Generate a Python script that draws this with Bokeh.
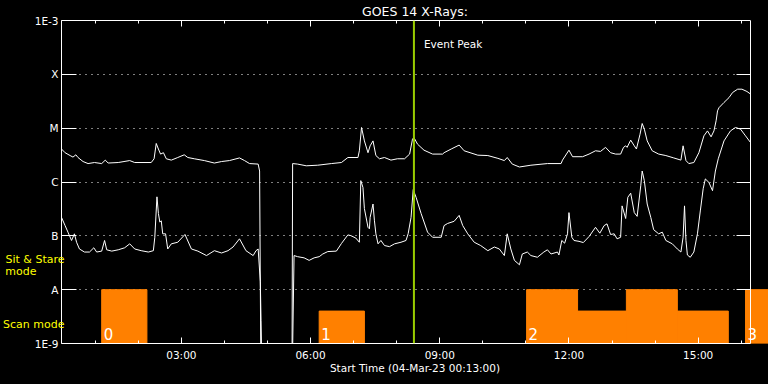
import pandas as pd
from bokeh.plotting import figure
from bokeh.models import (ColumnDataSource, FixedTicker, LogAxis, DatetimeAxis,
                          DatetimeTickFormatter, Span, Label, LabelSet,
                          GlobalInlineStyleSheet)
from bokeh.core.properties import value
from bokeh.embed import file_html
from bokeh.resources import INLINE

# ---------------- data ----------------
DAY = "2023-03-04"
START = "00:13"
END = "16:13"
EVENT_PEAK = "08:24"
TITLE = "GOES 14 X-Rays:"
X_LABEL = "Start Time (04-Mar-23 00:13:00)"

# GOES long channel (1-8 A), W/m^2
long_time = ["00:13", "00:18", "00:25", "00:29", "00:33", "00:36", "00:43", "00:50", "00:59", "01:09",
             "01:14", "01:18", "01:32", "01:48", "01:55", "02:18", "02:22", "02:25", "02:28", "02:31",
             "02:35", "02:39", "02:46", "02:55", "03:04", "03:09", "03:18", "03:32", "03:46", "03:56",
             "04:07", "04:21", "04:28", "04:35", "04:47", "04:49", "04:51", "05:34", "05:35", "05:42",
             "05:54", "06:10", "06:29", "06:43", "06:52", "07:06", "07:08", "07:11", "07:15", "07:20",
             "07:23", "07:27", "07:31", "07:36", "07:43", "07:52", "08:01", "08:11", "08:18", "08:22",
             "08:24", "08:29", "08:38", "08:50", "09:04", "09:06", "09:16", "09:27", "09:34", "09:53",
             "10:07", "10:21", "10:30", "10:34", "10:41", "10:51", "11:07", "11:30", "11:49", "11:51",
             "12:00", "12:05", "12:19", "12:28", "12:37", "12:44", "12:51", "12:58", "13:05", "13:12",
             "13:16", "13:19", "13:21", "13:26", "13:31", "13:34", "13:39", "13:42", "13:45", "13:49",
             "13:56", "14:05", "14:15", "14:26", "14:36", "14:39", "14:43", "14:47", "14:54", "15:01",
             "15:08", "15:13", "15:18", "15:22", "15:25", "15:27", "15:29", "15:36", "15:43", "15:48",
             "15:55", "16:01", "16:08", "16:13"]
long_flux = [4.1e-6, 3.5e-6, 3.1e-6, 2.9e-6, 3.2e-6, 2.85e-6, 2.4e-6, 2.2e-6, 2.3e-6, 2.2e-6,
             2.55e-6, 2.25e-6, 2.3e-6, 2.5e-6, 2.3e-6, 2.3e-6, 2.7e-6, 5.2e-6, 4.1e-6, 3.3e-6,
             3.5e-6, 2.7e-6, 2.55e-6, 2.85e-6, 3.2e-6, 2.85e-6, 2.7e-6, 2.5e-6, 2.25e-6, 2.4e-6,
             2.5e-6, 2.8e-6, 2.5e-6, 2.2e-6, 2.15e-6, 1.6e-6, 1e-10, 1e-10, 2.2e-6, 2.15e-6,
             2.0e-6, 2.05e-6, 2.2e-6, 2.3e-6, 2.85e-6, 2.85e-6, 3.8e-6, 1.03e-5, 5.8e-6, 3.5e-6,
             4.7e-6, 5.8e-6, 3.1e-6, 2.7e-6, 2.85e-6, 2.55e-6, 2.7e-6, 2.7e-6, 3.3e-6, 6.25e-6,
             6.7e-6, 5.05e-6, 3.9e-6, 3.3e-6, 3.3e-6, 3.5e-6, 4.1e-6, 4.85e-6, 3.8e-6, 3.15e-6,
             3.1e-6, 2.75e-6, 2.5e-6, 2.85e-6, 2.15e-6, 1.9e-6, 2.05e-6, 2.2e-6, 2.2e-6, 2.55e-6,
             3.9e-6, 2.95e-6, 2.95e-6, 3.3e-6, 3.8e-6, 3.7e-6, 4.4e-6, 3.5e-6, 3.3e-6, 3.3e-6,
             4.4e-6, 4.7e-6, 4.4e-6, 6.0e-6, 4.7e-6, 4.1e-6, 7.7e-6, 1.22e-5, 9.6e-6, 5.8e-6,
             3.8e-6, 3.3e-6, 3.1e-6, 2.8e-6, 2.55e-6, 4.7e-6, 2.5e-6, 2.2e-6, 2.3e-6, 3.5e-6,
             7.2e-6, 8.9e-6, 6.9e-6, 8.9e-6, 1.37e-5, 2.1e-5, 2.4e-5, 3.0e-5, 3.7e-5, 4.6e-5,
             5.3e-5, 5.3e-5, 4.8e-5, 4.3e-5]

# GOES short channel (0.5-4 A), W/m^2
short_time = ["00:13", "00:18", "00:22", "00:27", "00:31", "00:34", "00:38", "00:45", "00:52", "00:58",
              "01:02", "01:09", "01:13", "01:16", "01:23", "01:32", "01:41", "01:48", "01:55", "02:04",
              "02:14", "02:21", "02:23", "02:26", "02:28", "02:30", "02:32", "02:34", "02:38", "02:41",
              "02:46", "02:55", "03:05", "03:14", "03:23", "03:35", "03:46", "03:56", "04:05", "04:12",
              "04:21", "04:30", "04:40", "04:44", "04:47", "04:50", "04:51", "04:53", "05:34", "05:37",
              "05:42", "05:51", "05:58", "06:05", "06:12", "06:17", "06:24", "06:36", "06:43", "06:52",
              "06:56", "07:03", "07:08", "07:10", "07:13", "07:15", "07:20", "07:22", "07:23", "07:27",
              "07:29", "07:31", "07:34", "07:38", "07:43", "07:50", "07:57", "08:06", "08:13", "08:16",
              "08:20", "08:23", "08:27", "08:34", "08:43", "08:50", "09:02", "09:06", "09:11", "09:20",
              "09:27", "09:32", "09:39", "09:48", "09:57", "10:07", "10:16", "10:23", "10:30", "10:34",
              "10:39", "10:44", "10:51", "10:55", "11:02", "11:07", "11:16", "11:25", "11:30", "11:35",
              "11:44", "11:46", "11:50", "11:54", "11:58", "12:00", "12:04", "12:07", "12:14", "12:20",
              "12:28", "12:37", "12:43", "12:49", "12:53", "12:58", "13:03", "13:07", "13:12", "13:14",
              "13:19", "13:22", "13:26", "13:31", "13:35", "13:40", "13:42", "13:45", "13:49", "13:54",
              "13:58", "14:05", "14:10", "14:15", "14:24", "14:31", "14:36", "14:39", "14:41", "14:43",
              "14:45", "14:49", "14:54", "14:59", "15:03", "15:07", "15:10", "15:15", "15:20", "15:24",
              "15:28", "15:36", "15:45", "15:52", "15:59", "16:06", "16:13"]
short_flux = [2.2e-7, 1.55e-7, 1.17e-7, 8.2e-8, 1.09e-7, 7.6e-8, 5.7e-8, 5.0e-8, 5.0e-8, 6.0e-8,
              5.0e-8, 5.2e-8, 8.2e-8, 5.5e-8, 5.2e-8, 5.5e-8, 6.0e-8, 7.1e-8, 5.7e-8, 5.3e-8,
              5.0e-8, 5.3e-8, 9.4e-8, 5.3e-7, 2.6e-7, 1.8e-7, 1.9e-7, 1.09e-7, 1.09e-7, 5.7e-8,
              7.1e-8, 7.6e-8, 1.06e-7, 5.7e-8, 5.2e-8, 4.3e-8, 5.3e-8, 4.8e-8, 5.3e-8, 6.2e-8,
              8.8e-8, 5.3e-8, 4.3e-8, 5.3e-8, 5.7e-8, 1.4e-8, 2.7e-9, 1e-10, 1e-10, 4.3e-8,
              4.1e-8, 3.9e-8, 3.5e-8, 3.9e-8, 4.1e-8, 4.6e-8, 5.1e-8, 5.2e-8, 7.2e-8, 1.04e-7,
              1.01e-7, 9.1e-8, 7.6e-8, 1.06e-6, 7.9e-7, 3.2e-7, 1.44e-7, 1.35e-7, 2.2e-7, 3.9e-7,
              1.9e-7, 1.09e-7, 7.1e-8, 8.2e-8, 6.6e-8, 6.3e-8, 7.1e-8, 7.6e-8, 8.2e-8, 1.1e-7,
              2.2e-7, 7.2e-7, 5.2e-7, 2.6e-7, 1.17e-7, 9.4e-8, 9.4e-8, 1.55e-7, 1.7e-7, 1.86e-7,
              2.4e-7, 1.55e-7, 1.09e-7, 7.6e-8, 6.6e-8, 5.3e-8, 6.2e-8, 5.7e-8, 4.3e-8, 1.09e-7,
              5.7e-8, 3.5e-8, 2.9e-8, 4.6e-8, 5.0e-8, 4.3e-8, 4.0e-8, 5.0e-8, 5.5e-8, 4.6e-8,
              5.0e-8, 4.4e-8, 8.2e-8, 7.3e-8, 1.09e-7, 2.7e-7, 9.4e-8, 8.2e-8, 7.9e-8, 7.5e-8,
              9.7e-8, 1.44e-7, 1.12e-7, 1.55e-7, 1.67e-7, 1.06e-7, 1.09e-7, 8.8e-8, 9.4e-8, 3.6e-7,
              2.1e-7, 5.2e-7, 6.2e-7, 2.7e-7, 2.3e-7, 8.5e-7, 1.6e-6, 1.06e-6, 3.9e-7, 2.2e-7,
              1.3e-7, 1.09e-7, 1.17e-7, 8.2e-8, 7.1e-8, 5.7e-8, 5.0e-8, 9.4e-8, 3.6e-7, 8.2e-8,
              4.4e-8, 4.0e-8, 5.0e-8, 1.09e-7, 2.9e-7, 7.5e-7, 1.14e-6, 9.8e-7, 6.9e-7, 1.6e-6,
              2.7e-6, 5.8e-6, 8.9e-6, 1.03e-5, 9.6e-6, 7.2e-6, 5.4e-6]

# observing-mode segments (top level: 1E-8 = sit & stare, lower = scan)
mode_start = ["01:09", "06:12", "11:01", "12:12", "13:20", "14:31", "16:06"]
mode_end = ["02:12", "07:15", "12:12", "13:20", "14:31", "15:42", "16:38"]
mode_top = [1e-8, 4e-9, 1e-8, 4e-9, 1e-8, 4e-9, 1e-8]

# sequence numbers
seq_time = ["01:09", "06:12", "11:01", "16:06"]
seq_label = ["0", "1", "2", "3"]

y_ticks = [1e-9, 1e-8, 1e-7, 1e-6, 1e-5, 1e-4, 1e-3]
y_labels = ["1E-9", "A", "B", "C", "M", "X", "1E-3"]
x_major = ["03:00", "06:00", "09:00", "12:00", "15:00"]
x_minor = ["01:00", "02:00", "03:00", "04:00", "05:00", "06:00", "07:00", "08:00",
           "09:00", "10:00", "11:00", "12:00", "13:00", "14:00", "15:00", "16:00"]

# ---------------- helpers / layout ----------------
def ts(s):
    return pd.Timestamp(f"{DAY} {s}")

def ms(s):
    return ts(s).value / 1e6

VIEW_END = "16:38"     # window extends a little past the data range (right margin)
FONT = "DejaVu Sans"
WHITE = "white"
YELLOW = "#ffff00"
ORANGE = "#ff8000"
PEAK = "#99cc00"

p = figure(width=768, height=384, x_axis_type="datetime", y_axis_type="log",
           x_range=(ts(START), ts(VIEW_END)), y_range=(y_ticks[0], y_ticks[-1]),
           output_backend="svg", toolbar_location=None,
           min_border_left=60, min_border_right=0, min_border_top=20, min_border_bottom=41,
           background_fill_color="black", border_fill_color="black")
p.outline_line_color = None
p.stylesheets = [GlobalInlineStyleSheet(css="html, body { background-color: #000; }")]

t0, t1 = ms(START), ms(END)
xticker = FixedTicker(ticks=[ms(s) for s in x_major], minor_ticks=[ms(s) for s in x_minor])
yticker = FixedTicker(ticks=y_ticks, minor_ticks=[])

# grid
p.xgrid.visible = False
g = p.ygrid[0]
g.ticker = yticker
g.grid_line_color = WHITE
g.grid_line_dash = "1 5"
g.grid_line_width = 1
if "cross_bounds" in g.properties():
    g.cross_bounds = (t0, t1)

# bottom axis
xa = p.xaxis[0]
xa.ticker = xticker
xa.bounds = (t0, t1)
xa.formatter = DatetimeTickFormatter(hours="%H:%M", hourmin="%H:%M", minutes="%H:%M",
                                     days="%H:%M", minsec="%H:%M")
xa.axis_line_color = WHITE
xa.major_tick_line_color = WHITE
xa.minor_tick_line_color = WHITE
xa.major_tick_in = 6
xa.major_tick_out = 0
xa.minor_tick_in = 3
xa.minor_tick_out = 0
xa.major_label_text_color = WHITE
xa.major_label_text_font = FONT
xa.major_label_text_font_size = "10.5px"
xa.major_label_standoff = 5
xa.axis_label = X_LABEL
xa.axis_label_text_color = WHITE
xa.axis_label_text_font = FONT
xa.axis_label_text_font_style = "normal"
xa.axis_label_text_font_size = "10.5px"
xa.axis_label_standoff = -2

# left axis
ya = p.yaxis[0]
ya.ticker = yticker
ya.major_label_overrides = dict(zip(y_ticks, y_labels))
ya.axis_line_color = WHITE
ya.major_tick_line_color = WHITE
ya.minor_tick_line_color = None
ya.major_tick_in = 15
ya.major_tick_out = 0
ya.major_label_text_color = WHITE
ya.major_label_text_font = FONT
ya.major_label_text_font_size = "10.5px"
ya.major_label_standoff = 3

# right axis (ticks only), pinned at the end of the observation
ra = LogAxis(ticker=yticker, fixed_location=t1, axis_line_color=WHITE,
             major_tick_line_color=WHITE, minor_tick_line_color=None,
             major_tick_in=14, major_tick_out=0,
             major_label_text_font_size="1px", major_label_text_color=None,
             major_label_standoff=0)
p.add_layout(ra, "right")

# top axis (ticks only) carrying the title
ta = DatetimeAxis(ticker=xticker, bounds=(t0, t1), axis_line_color=WHITE,
                  major_tick_line_color=WHITE, minor_tick_line_color=WHITE,
                  major_tick_in=6, major_tick_out=0, minor_tick_in=3, minor_tick_out=0,
                  major_label_text_font_size="1px", major_label_text_color=None,
                  major_label_standoff=0,
                  axis_label=TITLE, axis_label_text_color=WHITE, axis_label_text_font=FONT,
                  axis_label_text_font_style="normal", axis_label_text_font_size="12.5px",
                  axis_label_standoff=2)
p.add_layout(ta, "above")

# observing-mode captions at the left (yellow): extra label-only axes stacked
# outside the main y axis, pulled back towards the frame with negative standoffs
CAPTION_Y = {"Sit & Stare": 10 ** -7.44, "mode": 10 ** -7.66, "Scan mode": 10 ** -8.65}

def caption_axis(texts, standoff, size="11px"):
    ys = [CAPTION_Y[t] for t in texts]
    ax = LogAxis(ticker=FixedTicker(ticks=ys, minor_ticks=[]),
                 major_label_overrides=dict(zip(ys, texts)), axis_line_color=None,
                 major_tick_line_color=None, minor_tick_line_color=None,
                 major_tick_out=0, major_tick_in=0,
                 major_label_text_color=YELLOW, major_label_text_font=FONT,
                 major_label_text_font_size=size, major_label_standoff=standoff)
    p.add_layout(ax, "left")

caption_axis(["mode"], -5)
caption_axis(["Sit & Stare", "Scan mode"], -62)

# observing mode bars
modes = ColumnDataSource(dict(left=[ts(s) for s in mode_start], right=[ts(s) for s in mode_end],
                              top=mode_top, bottom=[y_ticks[0]] * len(mode_top)))
p.quad(left="left", right="right", top="top", bottom="bottom", source=modes,
       fill_color=ORANGE, line_color=ORANGE, line_width=1)

# light curves
p.line(x=[ts(s) for s in long_time], y=long_flux, line_color=WHITE, line_width=1)
p.line(x=[ts(s) for s in short_time], y=short_flux, line_color=WHITE, line_width=1)

# event peak
p.add_layout(Span(location=ms(EVENT_PEAK), dimension="height", line_color=PEAK, line_width=2))
p.add_layout(Label(x=ms(EVENT_PEAK), y=10 ** -3.43, x_offset=10, text="Event Peak",
                   text_color=WHITE, text_font=FONT, text_font_size="10.5px",
                   text_baseline="middle"))

# sequence numbers
seq = ColumnDataSource(dict(x=[ms(s) for s in seq_time], y=[y_ticks[0]] * len(seq_time),
                            text=seq_label))
p.add_layout(LabelSet(x="x", y="y", text="text", source=seq, x_offset=2, y_offset=4,
                      text_color=WHITE, text_font=value(FONT), text_font_size="15px",
                      text_baseline="alphabetic"))

open("out.html", "w").write(file_html(p, INLINE))
